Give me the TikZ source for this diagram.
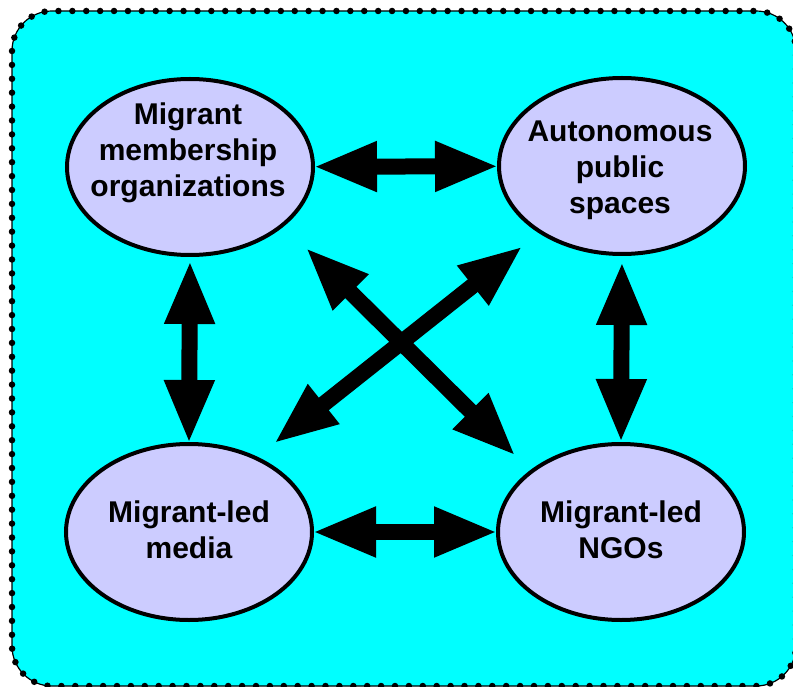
\documentclass[tikz,border=0pt]{standalone}
\usepackage{fontspec}
\setmainfont{Liberation Sans}
\usetikzlibrary{arrows.meta,shapes.geometric,calc}
\definecolor{bgcyan}{RGB}{0,255,255}
\definecolor{lav}{RGB}{204,204,255}
\begin{document}
\begin{tikzpicture}[x=1pt,y=-1pt,
  ell/.style={ellipse, draw=black, line width=4pt, fill=lav, minimum width=246pt, minimum height=176pt, inner sep=0pt, outer sep=0pt},
  lbl/.style={align=center, inner sep=0pt, font=\fontsize{30}{36}\selectfont\bfseries},
  dbl/.style={line width=16pt, {Triangle[length=64pt,width=46pt]}-{Triangle[length=64pt,width=46pt]}},
  frame/.style={rounded corners=40pt}]
\useasboundingbox (0,0) rectangle (793,687);
\path[fill=bgcyan, frame] (12,11) rectangle (796,686);
\draw[line width=1.2pt, frame] (12,11) rectangle (796,686);
\draw[line width=6.5pt, line cap=round, dash pattern=on 0pt off 13.9pt, frame] (12,11) rectangle (796,686);

\node[ell] (tl) at (190,167) {};
\node[ell] (tr) at (622,166) {};
\node[ell] (bl) at (189,532) {};
\node[ell] (br) at (621,532) {};

\node[lbl] (tlt) at ($(tl)+(-2,-14)$) {Migrant\\membership\\organizations};
\node[lbl] (trt) at ($(tr)+(-2,4)$) {Autonomous\\public\\spaces};
\node[lbl] (blt) at ($(bl)+(0,-2)$) {Migrant-led\\media};
\node[lbl] (brt) at ($(br)+(0,-2)$) {Migrant-led\\NGOs};

\draw[dbl] (tl) -- (tr);
\draw[dbl] (bl) -- (br);
\draw[dbl, shorten <=5pt] (tl.south) -- (bl.north);
\draw[dbl, shorten <=7pt, shorten >=1pt] (tr.south) -- (br.north);
\draw[dbl, shorten <=32pt, shorten >=22pt] (tl.-32.5) -- (br.146.8);
\draw[dbl, shorten <=22.5pt, shorten >=23pt] (tr.-141.2) -- (bl.48.1);
\end{tikzpicture}
\end{document}
